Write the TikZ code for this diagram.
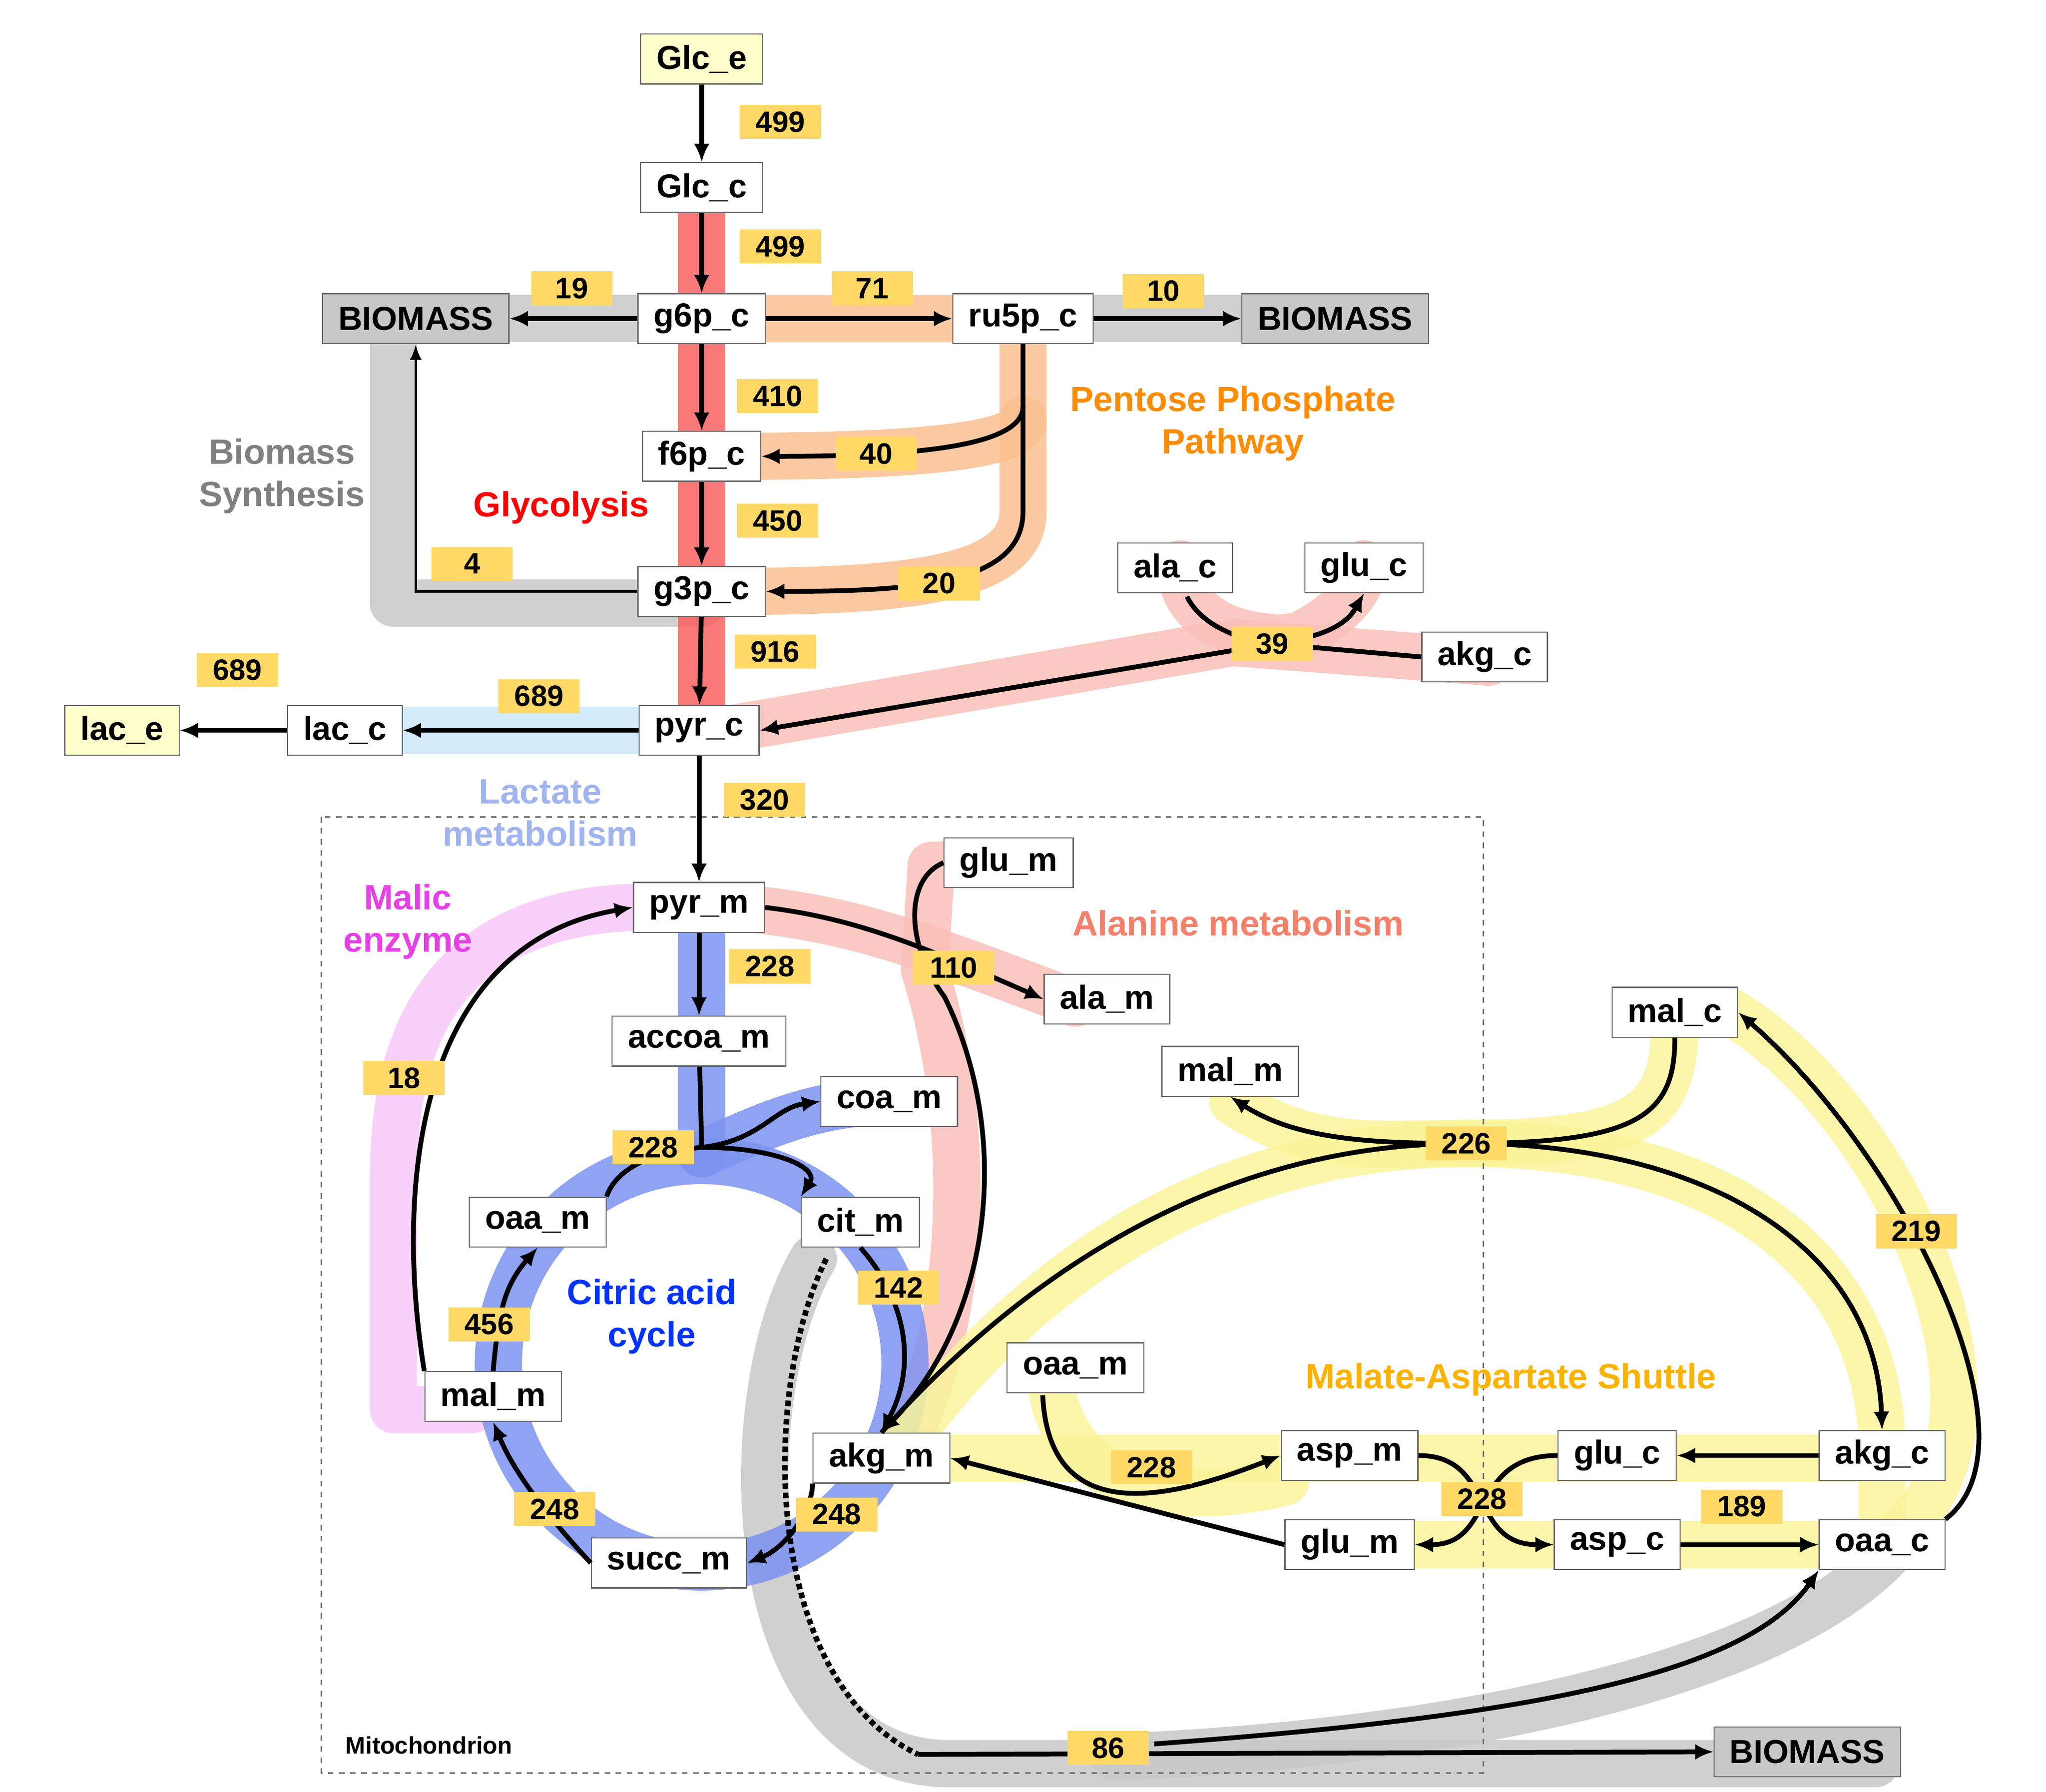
\documentclass[tikz,border=0pt]{standalone}
\usepackage{fontspec}
\setmainfont{Liberation Sans}
\usetikzlibrary{arrows.meta}
\definecolor{boxy}{HTML}{FFFFCC}
\definecolor{lab}{HTML}{FFD966}
\definecolor{cred}{HTML}{F86060}
\definecolor{corg}{HTML}{FAC090}
\definecolor{cgray}{HTML}{C8C8C8}
\definecolor{cblue}{HTML}{CCE8FA}
\definecolor{csal}{HTML}{F9C0B8}
\definecolor{cmag}{HTML}{F8C8F8}
\definecolor{ctca}{HTML}{7B93F0}
\definecolor{cyel}{HTML}{FAF59A}
\begin{document}
\begin{tikzpicture}[x=0.025cm,y=-0.025cm,
  met/.style={draw=black!60,fill=white,line width=0.6pt,minimum height=0.95cm,inner xsep=0.3cm,font=\fontsize{18}{20}\selectfont\bfseries},
  ext/.style={met,fill=boxy},
  bio/.style={met,fill=cgray},
  lb/.style={fill=lab,minimum width=1.55cm,minimum height=0.65cm,inner sep=1pt,font=\fontsize{16}{18}\selectfont\bfseries},
  band/.style={line width=0.9cm,line cap=round,line join=round,opacity=0.85},
  ar/.style={line width=2.6pt,-{Latex[length=0.35cm,width=0.3cm]}},
  ln/.style={line width=2.6pt},
  tt/.style={font=\fontsize{19}{23}\selectfont\bfseries,align=center}]
\useasboundingbox (0,0) rectangle (1560,1366.6);
% ---- bands ----
\draw[band,cgray] (535,243)--(300,243)--(300,460)--(535,460);
\draw[band,cgray] (780,243)--(1070,243);
\draw[band,cgray] (620,960) .. controls (560,1060) and (560,1340) .. (720,1345)--(1430,1345);
\draw[band,cgray] (1440,1185) .. controls (1350,1280) and (1100,1330) .. (850,1340);
\draw[band,corg] (535,243)--(780,243)--(780,320) .. controls (780,340) and (700,348) .. (560,348);
\draw[band,corg] (780,320)--(780,390) .. controls (780,440) and (700,451) .. (560,451);
\draw[band,cred] (535,143)--(535,545);
\draw[band,cblue] (533,557)--(255,557);
\draw[band,csal] (550,557)--(940,490)--(1135,505);
\draw[band,csal] (900,430) .. controls (900,480) and (960,490) .. (990,485) .. controls (1020,470) and (1040,450) .. (1040,430);
\draw[band,cmag] (480,692) .. controls (330,700) and (300,800) .. (300,900)--(300,1075)--(360,1075);
\draw[band,csal] (560,692) .. controls (650,700) and (700,720) .. (820,765);
\draw[band,csal] (769,658)--(710,660)--(705,740) .. controls (740,850) and (740,1000) .. (690,1100);
\draw[band,ctca] (535,692)--(535,880);
\draw[band,ctca] (535,880) .. controls (580,860) and (620,840) .. (680,840);
\draw[band,ctca] (535,1040) circle (155);
\draw[band,cyel] (940,840) .. controls (1000,880) and (1050,872) .. (1118,872) .. controls (1250,872) and (1277,850) .. (1277,780);
\draw[band,cyel] (690,1100) .. controls (800,950) and (950,872) .. (1118,872) .. controls (1300,872) and (1430,950) .. (1435,1100);
\draw[band,cyel] (1320,772) .. controls (1450,850) and (1560,1100) .. (1435,1178);
\draw[band,cyel] (690,1112)--(1435,1112)--(1435,1178)--(1029,1178);
\draw[band,cyel] (800,1043) .. controls (805,1140) and (900,1150) .. (980,1130);
% ---- region ----
\draw[dashed,black!60,line width=0.8pt] (245,623) rectangle (1131,1352);
\node[font=\fontsize{13}{15}\selectfont\bfseries] (mito) at (327,1331) {Mitochondrion};
% ---- nodes ----
\node[ext] (glce) at (535,45) {Glc\_e};
\node[met] (glcc) at (535,143) {Glc\_c};
\node[met] (g6p) at (535,243) {g6p\_c};
\node[met] (ru5p) at (780,243) {ru5p\_c};
\node[bio] (bioL) at (317,243) {BIOMASS};
\node[bio] (bioR) at (1018,243) {BIOMASS};
\node[met] (f6p) at (535,348) {f6p\_c};
\node[met] (g3p) at (535,451) {g3p\_c};
\node[met] (pyrc) at (533,557) {pyr\_c};
\node[met] (lacc) at (263,557) {lac\_c};
\node[ext] (lace) at (93,557) {lac\_e};
\node[met] (alac) at (896,433) {ala\_c};
\node[met] (gluc1) at (1040,433) {glu\_c};
\node[met] (akgc1) at (1132,501) {akg\_c};
\node[met] (pyrm) at (533,692) {pyr\_m};
\node[met] (glum1) at (769,658) {glu\_m};
\node[met] (alam) at (844,762) {ala\_m};
\node[met] (accoa) at (533,794) {accoa\_m};
\node[met] (coam) at (678,840) {coa\_m};
\node[met] (malm1) at (938,817) {mal\_m};
\node[met] (malc) at (1277,772) {mal\_c};
\node[met] (oaam1) at (410,932) {oaa\_m};
\node[met] (citm) at (656,932) {cit\_m};
\node[met] (malm2) at (376,1065) {mal\_m};
\node[met] (oaam2) at (820,1043) {oaa\_m};
\node[met] (akgm) at (672,1112) {akg\_m};
\node[met] (succ) at (510,1192) {succ\_m};
\node[met] (aspm) at (1029,1110) {asp\_m};
\node[met] (gluc2) at (1233,1110) {glu\_c};
\node[met] (akgc2) at (1435,1110) {akg\_c};
\node[met] (glum2) at (1029,1178) {glu\_m};
\node[met] (aspc) at (1233,1178) {asp\_c};
\node[met] (oaac) at (1435,1178) {oaa\_c};
\node[bio] (bioB) at (1378,1336) {BIOMASS};
% ---- texts ----
\node[tt,text=orange!90!yellow] (tppp) at (940,323) {Pentose Phosphate\\Pathway};
\node[tt,text=gray] (tbio) at (215,363) {Biomass\\Synthesis};
\node[tt,text=red] (tgly) at (428,387) {Glycolysis};
\node[tt,text={rgb,255:red,160;green,180;blue,240}] (tlac) at (412,620) {Lactate\\metabolism};
\node[tt,text={rgb,255:red,230;green,64;blue,230}] (tmal) at (311,703) {Malic\\enzyme};
\node[tt,text={rgb,255:red,244;green,128;blue,106}] (tala) at (944,704) {Alanine metabolism};
\node[tt,text=blue!80!cyan] (ttca) at (497,1004) {Citric acid\\cycle};
\node[tt,text=orange!60!yellow] (tmas) at (1152,1052) {Malate-Aspartate Shuttle};
% ---- connectors ----
\draw[ar] (glce)--(glcc);
\draw[ar] (glcc)--(g6p);
\draw[ar] (g6p)--(bioL);
\draw[ar] (g6p)--(ru5p);
\draw[ar] (ru5p)--(bioR);
\draw[ar] (g6p)--(f6p);
\draw[ar] (f6p)--(g3p);
\draw[ar] (g3p)--(pyrc);
\coordinate (jp) at (780,310);
\draw[ar] (ru5p.south) -- (jp) .. controls (780,340) and (700,348) .. (f6p.east);
\draw[ar] (jp)--(780,390) .. controls (780,445) and (700,451) .. (g3p.east);
\draw[line width=1.5pt,-{Latex[length=0.3cm]}] (g3p.west)--(317,451)--(bioL.south);
\draw[ar] (pyrc)--(lacc);
\draw[ar] (lacc)--(lace);
\draw[ar] (pyrc)--(pyrm);
\coordinate (j39) at (970,491);
\draw[ar] (akgc1.west)--(j39)--(pyrc.east);
\coordinate (ala0) at (905,455);
\draw[ln] (ala0) .. controls (915,475) and (940,487) .. (j39);
\draw[ar] (j39) .. controls (1020,485) and (1030,470) .. (gluc1.south);
\draw[ar] (pyrm)--(accoa);
\draw[ar] (pyrm.east) .. controls (650,700) and (700,720) .. (alam.west);
\draw[ar] (glum1.west) .. controls (690,670) and (690,720) .. (720,760) .. controls (770,860) and (760,1000) .. (akgm.north);
\coordinate (j228) at (535,875);
\draw[ln] (accoa)--(j228);
\draw[ar] (j228) .. controls (580,870) and (590,845) .. (coam.west);
\draw[ar] (j228) .. controls (590,875) and (625,890) .. (citm.north west);
\draw[ln] (oaam1.north east) .. controls (470,890) and (500,878) .. (j228);
\draw[ar] (citm.south) .. controls (690,990) and (700,1040) .. (akgm.north);
\draw[ar] (akgm.south west) .. controls (620,1150) and (600,1180) .. (succ.east);
\draw[ar] (succ.west) .. controls (430,1170) and (395,1130) .. (malm2.south);
\draw[ar] (malm2.north) .. controls (380,1000) and (385,980) .. (oaam1.south);
\draw[ar] (malm2.north west) .. controls (300,900) and (320,720) .. (pyrm.west);
\coordinate (j226) at (1118,872);
\draw[ln] (akgm.north) .. controls (800,950) and (950,872) .. (j226);
\draw[ln] (malc.south) .. controls (1277,850) and (1250,872) .. (j226);
\draw[ar] (j226) .. controls (1050,872) and (990,870) .. (malm1.south);
\draw[ar] (j226) .. controls (1300,872) and (1430,950) .. (akgc2.north);
\draw[ar] (oaac.north east) .. controls (1560,1100) and (1450,880) .. (malc.east);
\coordinate (oa0) at (795,1064);
\draw[ar] (oa0) .. controls (800,1170) and (900,1140) .. (aspm.west);
\draw[ar] (glum2.west)--(akgm.east);
\draw[ar] (aspm.east) .. controls (1140,1110) and (1120,1178) .. (aspc.west);
\draw[ar] (gluc2.west) .. controls (1120,1110) and (1140,1178) .. (glum2.east);
\draw[ar] (akgc2.west) .. controls (1340,1110) and (1330,1110) .. (gluc2.east);
\draw[ar] (aspc.east) .. controls (1330,1178) and (1340,1178) .. (oaac.west);
\coordinate (d0) at (630,960);
\coordinate (d1) at (700,1338);
\draw[line width=3pt,dotted] (d0) .. controls (580,1060) and (580,1280) .. (d1);
\draw[ar] (d1)--(bioB.west);
\coordinate (j86) at (880,1330);
\draw[ar] (j86) .. controls (1150,1310) and (1330,1280) .. (oaac.south west);
% ---- labels ----
\foreach \n/\x/\y/\t in {a/595/93/499,b/595/188/499,c/436/220/19,d/665/220/71,e/887/222/10,f/593/302/410,g/668/346/40,h/593/397/450,i/360/430/4,j/716/445/20,k/591/497/916,l/970/491/39,m/181/511/689,n/411/531/689,o/583/610/320,p/587/737/228,q/727/738/110,r/308/822/18,s/498/875/228,t/1118/872/226,u/1461/939/219,v/685/982/142,w/373/1010/456,x/878/1119/228,y/1130/1143/228,z/1328/1149/189,aa/423/1151/248,ab/638/1155/248,ac/845/1333/86}
  \node[lb] (l\n) at (\x,\y) {\t};
\end{tikzpicture}
\end{document}
